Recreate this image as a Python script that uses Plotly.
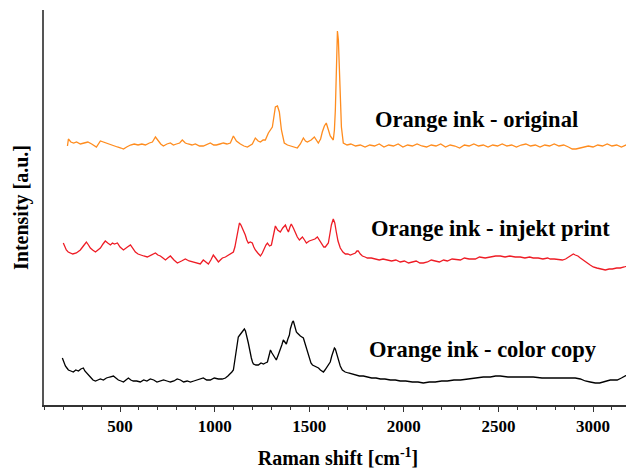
import plotly.graph_objects as go

# Raman shift (cm-1) and intensity (a.u., offset spectra)
orig_x = [222, 227, 240, 255, 270, 290, 310, 330, 350, 375, 396, 410, 425, 449, 470, 486, 505, 518, 535, 555,
          575, 595, 615, 634, 655, 671, 687, 702, 715, 729, 748, 766, 782, 798, 815, 829, 845, 860, 880, 898,
          920, 940, 960, 977, 995, 1009, 1028, 1046, 1065, 1083, 1099, 1115, 1136, 1155, 1173, 1188, 1199, 1215,
          1230, 1242, 1256, 1268, 1284, 1305, 1315, 1321, 1332, 1342, 1353, 1368, 1385, 1400, 1420, 1437, 1453,
          1469, 1480, 1490, 1510, 1527, 1548, 1560, 1569, 1580, 1590, 1600, 1611, 1627, 1633, 1638, 1643, 1649,
          1654, 1659, 1664, 1670, 1680, 1700, 1720, 1745, 1770, 1795, 1820, 1845, 1870, 1895, 1920, 1945, 1970,
          1995, 2020, 2045, 2070, 2095, 2120, 2145, 2170, 2195, 2220, 2245, 2270, 2295, 2320, 2345, 2370, 2395,
          2420, 2445, 2470, 2495, 2520, 2545, 2570, 2595, 2620, 2645, 2670, 2695, 2720, 2745, 2770, 2795, 2820,
          2845, 2870, 2890, 2910, 2930, 2950, 2975, 3000, 3025, 3050, 3075, 3100, 3125, 3150, 3175, 3208]
orig_y = [259, 266, 263, 262, 263, 261, 262, 263, 261, 258, 264, 263, 262, 260, 259, 258, 257, 256, 258, 260,
          261, 260, 261, 260, 262, 263, 268, 264, 261, 259, 261, 262, 260, 261, 262, 265, 262, 261, 260, 261,
          259, 259, 261, 262, 260, 260, 261, 262, 261, 262, 269, 264, 261, 259, 258, 260, 261, 267,
          264, 263, 265, 265, 272, 278, 290, 298, 299, 293, 275, 262, 260, 259, 258, 257, 261,
          267, 264, 263, 265, 268, 262, 266, 273, 279, 282, 276, 269, 265, 275, 295, 345, 374,
          365, 330, 300, 278, 262, 260, 261, 259, 260, 258, 260, 259, 261, 258, 260, 259, 261,
          258, 260, 259, 261, 259, 258, 260, 259, 261, 258, 260, 259, 257, 260, 259, 261, 259,
          260, 258, 260, 259, 261, 259, 260, 258, 260, 261, 259, 260, 258, 260, 259, 261, 259,
          260, 258, 256, 256, 257, 258, 259, 258, 260, 259, 261, 259, 260, 258, 260, 260]

inkjet_x = [200, 208, 216, 226, 237, 250, 269, 280, 290, 306, 322, 333, 343, 355, 370, 383, 396, 410, 422, 435,
            449, 460, 470, 486, 500, 518, 530, 539, 555, 568, 581, 595, 607, 625, 644, 665, 687, 700, 713, 727,
            740, 752, 766, 785, 803, 825, 845, 865, 882, 903, 924, 940, 955, 967, 980, 993, 1005, 1020, 1030, 1041,
            1057, 1072, 1085, 1099, 1107, 1115, 1123, 1131, 1139, 1147, 1155, 1162, 1170, 1178, 1188, 1199, 1207,
            1215, 1228, 1242, 1252, 1263, 1271, 1279, 1290, 1300, 1310, 1321, 1333, 1347, 1360, 1374, 1382, 1390,
            1398, 1405, 1416, 1427, 1437, 1448, 1456, 1464, 1475, 1485, 1500, 1517, 1530, 1543, 1556, 1569, 1577,
            1585, 1593, 1601, 1610, 1617, 1627, 1635, 1643, 1652, 1664, 1678, 1691, 1704, 1717, 1730, 1744, 1752,
            1759, 1770, 1781, 1795, 1807, 1828, 1849, 1870, 1890, 1913, 1935, 1958, 1981, 2003, 2025, 2045, 2065,
            2085, 2103, 2125, 2145, 2166, 2188, 2210, 2230, 2255, 2280, 2299, 2320, 2345, 2378, 2400, 2430, 2457,
            2485, 2510, 2535, 2560, 2589, 2615, 2640, 2665, 2684, 2710, 2735, 2760, 2774, 2795, 2820, 2838, 2855,
            2870, 2885, 2896, 2906, 2920, 2933, 2950, 2970, 2985, 3001, 3020, 3038, 3052, 3065, 3085, 3102, 3125,
            3144, 3165, 3181, 3195, 3208]
inkjet_y = [162, 158, 155, 153, 152, 151, 152, 154, 155, 159, 163, 160, 157, 155, 153, 155, 157, 161, 164, 162,
            160, 162, 161, 162, 158, 155, 157, 158, 160, 156, 153, 151, 150, 149, 148, 150, 152, 150, 149, 147,
            145, 147, 149, 145, 142, 144, 146, 144, 143, 142, 141, 145, 143, 141, 145, 150, 147, 143, 145, 147,
            148, 150, 151, 153, 158, 165, 175, 182, 180, 177, 173, 170, 165, 162, 163, 162, 158,
            155, 152, 149, 152, 157, 160, 162, 159, 160, 170, 179, 175, 173, 177, 180, 176, 173,
            178, 181, 177, 172, 168, 165, 167, 168, 165, 162, 164, 165, 166, 168, 164, 160, 158,
            158, 160, 162, 172, 180, 186, 182, 173, 164, 157, 153, 151, 151, 150, 151, 152, 154,
            154, 151, 149, 148, 147, 147, 146, 145, 146, 145, 144, 145, 143, 144, 142, 143, 144,
            142, 142, 143, 145, 144, 143, 145, 144, 146, 145, 145, 147, 146, 146, 148, 147, 148,
            149, 149, 148, 149, 148, 148, 147, 148, 147, 147, 146, 147, 146, 146, 145, 145, 146,
            148, 150, 151, 150, 149, 147, 145, 142, 140, 138, 137, 136, 135, 135, 136, 136, 137,
            137, 138, 139, 140, 142]

copy_x = [195, 203, 211, 219, 227, 240, 253, 266, 280, 293, 306, 314, 322, 333, 343, 357, 370, 383, 396, 412,
          428, 445, 465, 478, 491, 505, 518, 531, 544, 557, 570, 588, 607, 625, 642, 660, 678, 695, 713, 730,
          748, 766, 785, 802, 819, 836, 855, 872, 890, 909, 925, 940, 958, 977, 998, 1020, 1040, 1057, 1070, 1083,
          1091, 1099, 1107, 1115, 1120, 1125, 1133, 1141, 1149, 1157, 1163, 1168, 1173, 1178, 1186, 1194, 1200,
          1205, 1218, 1231, 1245, 1258, 1268, 1279, 1287, 1295, 1303, 1310, 1318, 1326, 1336, 1347, 1355, 1363,
          1371, 1379, 1387, 1395, 1400, 1405, 1411, 1416, 1421, 1427, 1432, 1437, 1445, 1453, 1461, 1469, 1477,
          1485, 1493, 1501, 1509, 1517, 1527, 1538, 1549, 1559, 1567, 1575, 1583, 1590, 1600, 1611, 1619, 1627,
          1633, 1638, 1646, 1654, 1664, 1675, 1690, 1707, 1725, 1744, 1765, 1786, 1807, 1830, 1853, 1876, 1900,
          1929, 1955, 1981, 2010, 2045, 2075, 2103, 2135, 2166, 2200, 2230, 2265, 2299, 2340, 2378, 2420, 2457,
          2485, 2510, 2550, 2589, 2635, 2684, 2730, 2774, 2815, 2853, 2880, 2906, 2933, 2959, 2985, 3012, 3035,
          3054, 3072, 3091, 3110, 3128, 3150, 3170, 3190, 3208]
copy_y = [47, 42, 39, 37, 35, 34, 33, 35, 34, 36, 37, 34, 32, 30, 28, 25, 24, 25, 26, 25,
          27, 28, 29, 27, 25, 24, 23, 25, 27, 25, 24, 24, 23, 25, 24, 26, 25, 23, 24, 25,
          24, 23, 24, 26, 25, 23, 24, 23, 24, 25, 26, 27, 25, 25, 27, 26, 26, 27, 29, 31,
          33, 35, 44, 55, 63, 68, 70, 72, 74, 76, 74, 71, 66, 62, 53, 47, 43,
          41, 40, 40, 42, 41, 42, 43, 49, 55, 52, 50, 47, 45, 50, 55, 60, 65,
          63, 61, 66, 70, 76, 80, 83, 84, 80, 75, 73, 72, 70, 69, 68, 67, 62,
          57, 50, 45, 42, 40, 39, 38, 37, 35, 34, 33, 35, 37, 40, 43, 49, 55,
          57, 56, 50, 45, 39, 35, 33, 32, 31, 30, 29, 29, 28, 27, 27, 26, 26,
          25, 25, 24, 24, 23, 23, 22, 23, 23, 24, 24, 25, 25, 26, 27, 28, 28,
          29, 29, 28, 28, 28, 28, 27, 27, 27, 27, 27, 27, 26, 24, 23, 22, 22,
          23, 24, 25, 25, 25, 27, 29, 31, 33]

labels = ["Orange ink - original", "Orange ink - injekt print", "Orange ink - color copy"]
label_x = [2383, 2457, 2420]
label_y = [286, 177, 56]

FONT = "Liberation Serif"

fig = go.Figure()
fig.add_trace(go.Scatter(x=orig_x, y=orig_y, mode="lines", line=dict(color="#FF8C1E", width=1.3), showlegend=False))
fig.add_trace(go.Scatter(x=inkjet_x, y=inkjet_y, mode="lines", line=dict(color="#EE1C25", width=1.3), showlegend=False))
fig.add_trace(go.Scatter(x=copy_x, y=copy_y, mode="lines", line=dict(color="#000000", width=1.3), showlegend=False))

for t, lx, ly in zip(labels, label_x, label_y):
    fig.add_annotation(x=lx, y=ly, xref="x", yref="y", text=t, showarrow=False,
                       font=dict(family=FONT, size=22.5, color="black", weight="bold"))

# page body has an 8px margin, so the figure is sized to fit the 634x470 window
fig.update_layout(
    width=626, height=462,
    margin=dict(l=36, r=2, t=2, b=65),
    paper_bgcolor="white", plot_bgcolor="white",
    font=dict(family=FONT, color="black"),
)
fig.update_xaxes(
    range=[98, 3206], showline=True, linecolor="#333333", linewidth=1.5, automargin=False,
    ticks="outside", ticklen=5, tickwidth=1.2, tickcolor="#333333",
    tick0=0, dtick=500, showgrid=False, zeroline=False,
    tickfont=dict(family=FONT, size=17, color="black", weight="bold"),
    minor=dict(ticks="outside", ticklen=3, tickwidth=1, tickcolor="#333333", dtick=100, tick0=0, showgrid=False),
    title=dict(text="Raman shift [cm<sup>-1</sup>]", standoff=16,
               font=dict(family=FONT, size=20, color="black", weight="bold")),
)
fig.update_yaxes(
    range=[0, 395], showline=True, linecolor="#555555", linewidth=1.5, automargin=False,
    ticks="", showticklabels=False, showgrid=False, zeroline=False,
    title=dict(text="Intensity [a.u.]", standoff=8,
               font=dict(family=FONT, size=20, color="black", weight="bold")),
)

fig.write_html("out.html")
